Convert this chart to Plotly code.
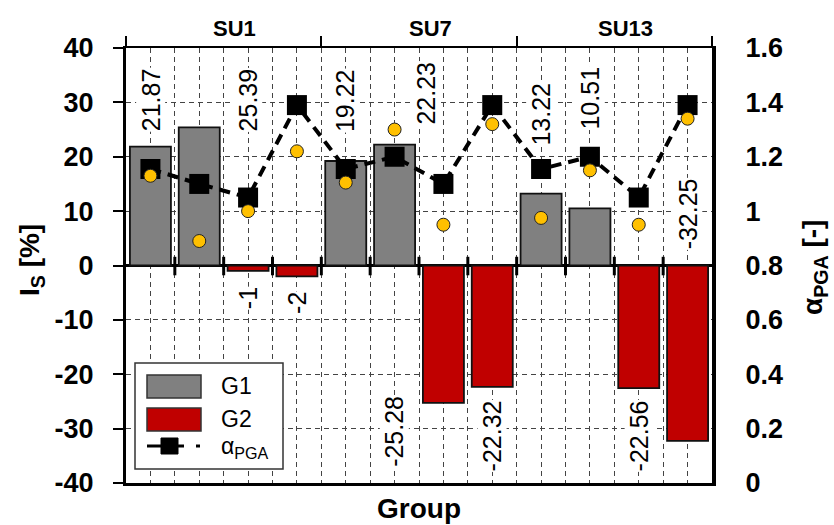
import plotly.graph_objects as go

# ---- data -------------------------------------------------------------
groups = ["SU1", "SU7", "SU13"]
slots_per_group = 4
positions = list(range(len(groups) * slots_per_group))

g1_x = [0, 1, 4, 5, 8, 9]
g1_vals = [21.87, 25.39, 19.22, 22.23, 13.22, 10.51]
g2_x = [2, 3, 6, 7, 10, 11]
g2_vals = [-1, -2, -25.28, -22.32, -22.56, -32.25]

alpha_pga = [1.155, 1.10, 1.05, 1.39, 1.155, 1.20, 1.10, 1.39, 1.155, 1.20, 1.05, 1.39]
alpha_obs = [1.13, 0.89, 1.00, 1.22, 1.105, 1.30, 0.95, 1.32, 0.975, 1.15, 0.95, 1.34]

y_ticks_left = [-40, -30, -20, -10, 0, 10, 20, 30, 40]
y_ticks_right = [0, 0.2, 0.4, 0.6, 0.8, 1, 1.2, 1.4, 1.6]

# where each value label sits (x in slot units, y = bottom of the rotated text)
g1_label_at = [(0, 24.5), (2, 24.4), (4, 24.4), (5.64, 25.8), (8, 21.8), (9, 24.9)]
g2_label_at = [(2, -8.2), (3, -9.1), (5, -37.2), (7, -38.1), (10, -38.0), (11, 2.8)]

# ---- styling ----------------------------------------------------------
W, H = 834, 525
L, R, T, B = 126, 122, 48, 42
FONT = "Liberation Sans, Arial, sans-serif"
GRAY = "#808080"
RED = "#C00000"
YELLOW = "#FFC000"
GRID = "#444444"


def px(x):
    return (x - L) / (W - L - R)


def py(y):
    return (H - B - y) / (H - T - B)


xr = [-0.5, positions[-1] + 0.5]

fig = go.Figure()

fig.add_trace(go.Bar(
    x=g1_x, y=g1_vals, name="G1", width=0.84,
    marker=dict(color=GRAY, line=dict(color="#111111", width=1.8)),
    showlegend=False,
))
fig.add_trace(go.Bar(
    x=g2_x, y=g2_vals, name="G2", width=0.84,
    marker=dict(color=RED, line=dict(color="#111111", width=1.8)),
    showlegend=False,
))
fig.add_trace(go.Scatter(
    x=positions, y=alpha_pga, name="αPGA", yaxis="y2", mode="lines+markers",
    line=dict(color="black", width=4, dash="11px,7px"),
    marker=dict(symbol="square", size=20, color="black"),
    showlegend=False,
))
fig.add_trace(go.Scatter(
    x=positions, y=alpha_obs, xaxis="x2", yaxis="y2", mode="markers",
    marker=dict(symbol="circle", size=13, color=YELLOW,
                line=dict(color="#222222", width=1)),
    showlegend=False,
))

grid_vals = [xr[0] + 0.5 * i for i in range(2 * len(positions) + 1)]
group_edges = [xr[0] + slots_per_group * i for i in range(len(groups) + 1)]
tick_font = dict(family=FONT, size=27, color="black", weight="bold")

fig.update_layout(
    width=W, height=H,
    margin=dict(l=L, r=R, t=T, b=B),
    paper_bgcolor="white", plot_bgcolor="white",
    barmode="overlay",
    font=dict(family=FONT, color="black"),
    xaxis=dict(
        range=xr, tickvals=grid_vals, showticklabels=False, ticks="",
        showgrid=True, gridcolor=GRID, gridwidth=1, griddash="5px,4px",
        showline=True, linecolor="black", linewidth=3, zeroline=False,
    ),
    xaxis2=dict(
        range=xr, overlaying="x", side="top", anchor="y",
        tickvals=group_edges, showticklabels=False,
        ticks="outside", ticklen=10, tickwidth=2, tickcolor="black",
        showline=True, linecolor="black", linewidth=2,
        showgrid=False, zeroline=False,
    ),
    yaxis=dict(
        range=[-40, 40], tickvals=y_ticks_left,
        ticktext=[f"{v:g}" for v in y_ticks_left],
        ticks="outside", ticklen=10, tickwidth=2, tickcolor="black",
        tickfont=tick_font,
        showgrid=True, gridcolor=GRID, gridwidth=1, griddash="5px,4px",
        showline=True, linecolor="black", linewidth=3,
        zeroline=True, zerolinecolor="black", zerolinewidth=3,
        ticklabelstandoff=14,
    ),
    yaxis2=dict(
        range=[0, 1.6], tickvals=y_ticks_right,
        ticktext=[f"{v:g}" for v in y_ticks_right],
        overlaying="y", side="right",
        ticks="", showgrid=False, zeroline=False,
        tickfont=tick_font,
        showline=True, linecolor="black", linewidth=4,
        ticklabelstandoff=24,
    ),
)

# cross ticks on the zero line at every slot boundary
for b in grid_vals[2:-2:2]:
    fig.add_shape(type="line", xref="x", yref="y", x0=b, x1=b, y0=-1.8, y1=1.6,
                  line=dict(color="black", width=3), layer="above")

# value labels
label_font = dict(family=FONT, size=25, color="black")
for vals, spots in ((g1_vals, g1_label_at), (g2_vals, g2_label_at)):
    for v, (lx, ly) in zip(vals, spots):
        fig.add_annotation(
            x=lx, y=ly, xref="x", yref="y", text=f"{v:g}", textangle=-90,
            showarrow=False, xanchor="center", yanchor="bottom",
            bgcolor="white", borderpad=0, font=label_font,
        )

# group headings over the top axis
for i, g in enumerate(groups):
    centre = xr[0] + slots_per_group * (i + 0.5)
    fig.add_annotation(
        x=centre, y=py(29), xref="x", yref="paper", text=g, showarrow=False,
        xshift=11, xanchor="center", yanchor="middle",
        font=dict(family=FONT, size=22, color="black", weight="bold"),
    )

# axis titles
title_font = dict(family=FONT, size=28, color="black", weight="bold")
fig.add_annotation(
    x=px(31), y=py(260), xref="paper", yref="paper", text="I<sub>S</sub> [%]",
    textangle=-90, showarrow=False, xanchor="center", yanchor="middle",
    font=title_font,
)
fig.add_annotation(
    x=px(814), y=py(268), xref="paper", yref="paper",
    text="α<sub>PGA</sub> [-]", textangle=-90, showarrow=False,
    xanchor="center", yanchor="middle", font=title_font,
)
fig.add_annotation(
    x=px(419), y=py(508), xref="paper", yref="paper", text="Group",
    showarrow=False, xanchor="center", yanchor="middle", font=title_font,
)

# legend box
fig.add_shape(type="rect", xref="paper", yref="paper",
              x0=px(135), x1=px(283), y0=py(469), y1=py(363),
              fillcolor="white", line=dict(color="#333333", width=1.5), layer="above")
fig.add_shape(type="rect", xref="paper", yref="paper",
              x0=px(147), x1=px(201), y0=py(398), y1=py(375),
              fillcolor=GRAY, line=dict(color="#333333", width=1.5), layer="above")
fig.add_shape(type="rect", xref="paper", yref="paper",
              x0=px(147), x1=px(201), y0=py(431), y1=py(408),
              fillcolor=RED, line=dict(color="#333333", width=1.5), layer="above")
fig.add_shape(type="line", xref="paper", yref="paper",
              x0=px(147), x1=px(184), y0=py(446), y1=py(446),
              line=dict(color="black", width=3), layer="above")
fig.add_shape(type="line", xref="paper", yref="paper",
              x0=px(196), x1=px(200), y0=py(446), y1=py(446),
              line=dict(color="black", width=3), layer="above")
fig.add_shape(type="rect", xref="paper", yref="paper",
              x0=px(161), x1=px(178), y0=py(454), y1=py(438),
              fillcolor="black", line=dict(color="black", width=1), layer="above")
legend_font = dict(family=FONT, size=23, color="black")
for txt, yy in (("G1", 386), ("G2", 419), ("α<sub>PGA</sub>", 447)):
    fig.add_annotation(
        x=px(219), y=py(yy), xref="paper", yref="paper", text=txt,
        showarrow=False, xanchor="left", yanchor="middle", font=legend_font,
    )

fig.write_html("out.html")
